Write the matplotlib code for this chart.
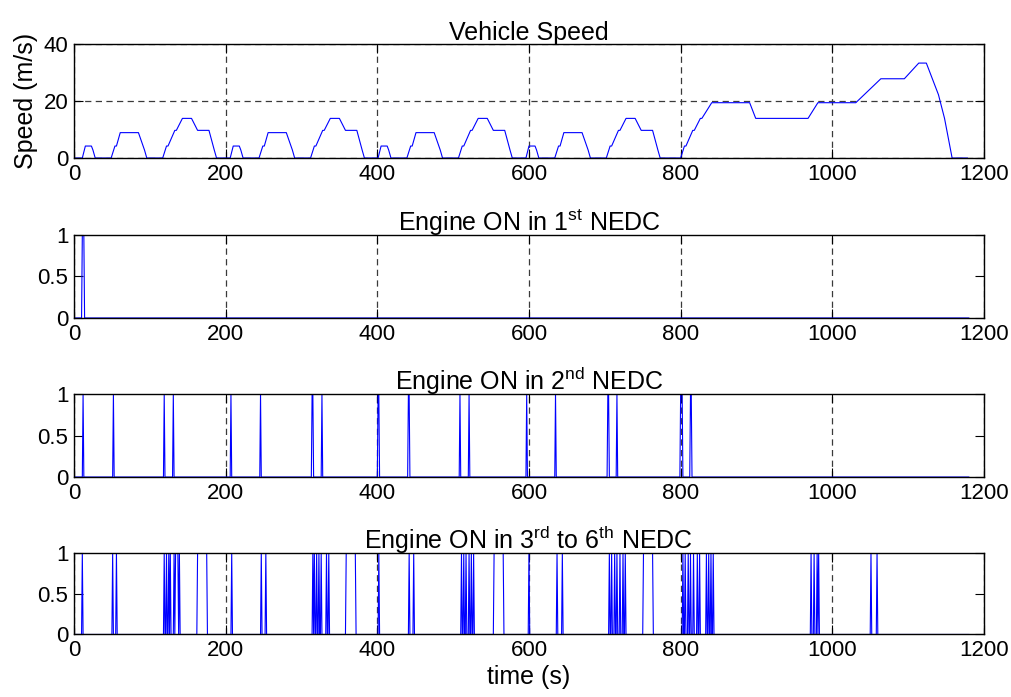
import numpy as np
import matplotlib.pyplot as plt

plt.rcParams['font.family'] = ['Liberation Sans', 'DejaVu Sans']
plt.rcParams['mathtext.fontset'] = 'custom'
plt.rcParams['mathtext.rm'] = 'Liberation Sans'
plt.rcParams['mathtext.it'] = 'Liberation Sans'
plt.rcParams['font.size'] = 16

# speed profile (m/s)
# one urban cycle, repeated four times
ece_t = [0, 11, 15, 23, 25, 28, 49, 54, 56, 61, 85, 93, 96, 117, 122, 124, 133, 135,
         143, 155, 163, 176, 178, 185, 188, 195]
ece_v = [0, 0, 4.2, 4.2, 2.8, 0, 0, 4.2, 4.2, 8.9, 8.9, 2.8, 0, 0, 4.2, 4.2, 9.7, 9.7,
         13.9, 13.9, 9.7, 9.7, 9.7, 2.8, 0, 0]
ece_start = [0, 195, 390, 585]
# extra-urban part
eudc_t = [780, 800, 805, 807, 816, 818, 826, 828, 841, 891, 899, 968, 981, 1031, 1064,
          1095, 1114, 1124, 1140, 1148, 1158, 1178]
eudc_v = [0, 0, 4.2, 4.2, 9.7, 9.7, 13.9, 13.9, 19.4, 19.4, 13.9, 13.9, 19.4, 19.4, 27.8,
          27.8, 33.3, 33.3, 22.2, 13.9, 0, 0]

# engine on periods (start, end) in seconds
on_1st = [(11, 13)]
on_2nd = [(12, 12), (52, 52), (119, 119), (131, 131), (207, 207), (246, 246), (314, 315),
          (327, 327), (401, 402), (441, 442), (509, 509), (521, 521), (597, 597),
          (635, 635), (704, 705), (716, 716), (800, 802), (813, 814)]
on_3rd_6th = [(11, 11), (51, 51), (56, 56), (119, 119), (122, 122), (125, 125), (127, 127),
              (132, 132), (134, 137), (139, 139), (163, 175), (208, 208), (247, 247),
              (253, 253), (315, 315), (317, 317), (320, 320), (323, 323), (326, 326),
              (333, 333), (336, 336), (359, 371), (402, 402), (442, 442), (448, 448),
              (511, 511), (514, 514), (517, 517), (521, 521), (524, 524), (527, 527),
              (554, 566), (600, 600), (637, 637), (644, 644), (706, 706), (709, 709),
              (713, 713), (716, 716), (720, 720), (724, 724), (727, 727), (751, 763),
              (803, 803), (806, 806), (810, 810), (813, 813), (817, 817), (822, 822),
              (825, 825), (834, 834), (837, 837), (840, 840), (843, 843), (972, 972),
              (976, 976), (980, 980), (982, 982), (1051, 1051), (1059, 1059)]

t_speed = []
v_speed = []
for s in ece_start:
    t_speed += [s + t for t in ece_t]
    v_speed += ece_v
t_speed += eudc_t
v_speed += eudc_v

t = np.arange(0, 1181)


def on_signal(periods):
    y = np.zeros(len(t))
    for a, b in periods:
        y[(t >= a) & (t <= b)] = 1
    return y


fig = plt.figure(figsize=(10.12, 6.97), dpi=100)
left, width = 0.0731, 0.8992
ax1 = fig.add_axes([left, 0.7733, width, 0.1636])
ax2 = fig.add_axes([left, 0.5438, width, 0.119])
ax3 = fig.add_axes([left, 0.3156, width, 0.119])
ax4 = fig.add_axes([left, 0.0897, width, 0.117])

grid_kw = dict(color='#3a3a3a', linestyle=(0, (5, 3.5)), linewidth=0.9)
title_size = 18

ax1.plot(t_speed, v_speed, color='blue', lw=0.8)
ax1.set_ylim(0, 40)
ax1.set_yticks([0, 20, 40])
ax1.set_title('Vehicle Speed', fontsize=title_size, pad=3)
ax1.set_ylabel('Speed (m/s)', fontsize=18, labelpad=4)
ax1.grid(True, **grid_kw)

titles = [r'Engine ON in 1$^{\mathrm{st}}$ NEDC',
          r'Engine ON in 2$^{\mathrm{nd}}$ NEDC',
          r'Engine ON in 3$^{\mathrm{rd}}$ to 6$^{\mathrm{th}}$ NEDC']
for ax, periods, title in zip([ax2, ax3, ax4], [on_1st, on_2nd, on_3rd_6th], titles):
    ax.plot(t, on_signal(periods), color='blue', lw=0.8)
    ax.set_ylim(0, 1)
    ax.set_yticks([0, 0.5, 1])
    ax.set_yticklabels(['0', '0.5', '1'])
    ax.set_title(title, fontsize=title_size, pad=3)
    ax.grid(True, axis='x', **grid_kw)

for ax in [ax1, ax2, ax3, ax4]:
    ax.set_xlim(0, 1200)
    ax.set_xticks([0, 200, 400, 600, 800, 1000, 1200])
    ax.tick_params(direction='in', length=6.5, width=0.8, top=True, right=True,
                   labelsize=16, pad=4)
    for sp in ax.spines.values():
        sp.set_linewidth(1.0)
    ax.set_axisbelow(True)

ax4.set_xlabel('time (s)', fontsize=18, labelpad=3)

fig.savefig('out.png', dpi=100)
